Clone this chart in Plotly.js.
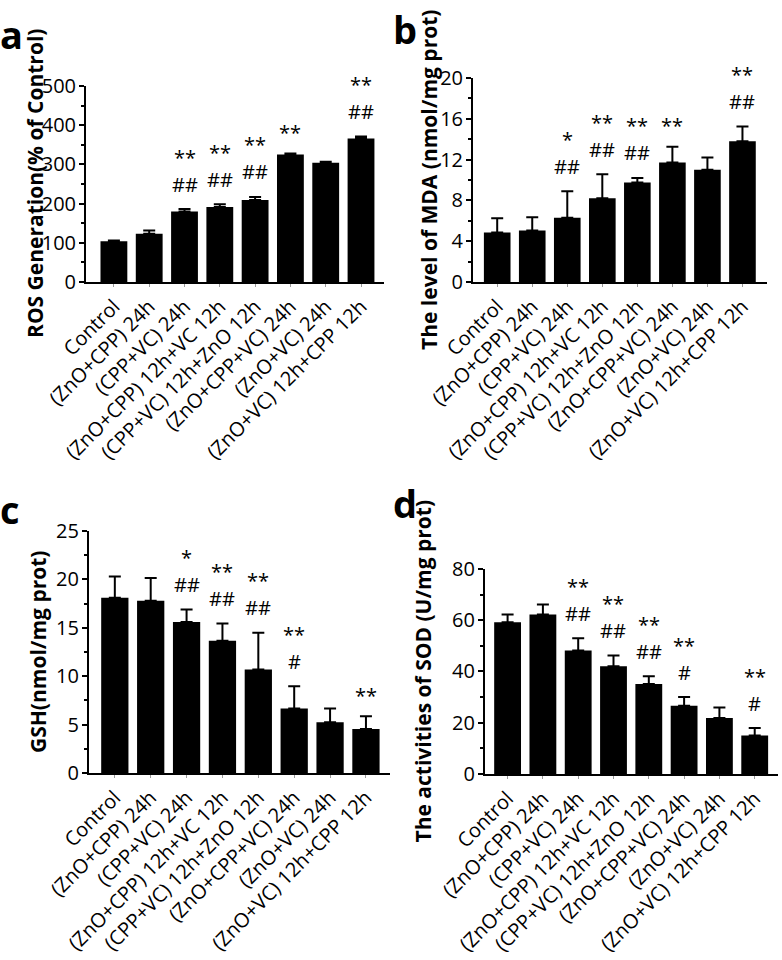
<!DOCTYPE html>
<html>
<head>
<meta charset="utf-8">
<script src="https://cdn.plot.ly/plotly-3.0.1.min.js"></script>
<style>html,body{margin:0;padding:0;background:#fff;}#chart{width:782px;height:960px;}</style>
</head>
<body>
<div id="chart"></div>
<script>
// ---- data ----
const categories = ["Control", "(ZnO+CPP) 24h", "(CPP+VC) 24h", "(ZnO+CPP) 12h+VC 12h",
  "(CPP+VC) 12h+ZnO 12h", "(ZnO+CPP+VC) 24h", "(ZnO+VC) 24h", "(ZnO+VC) 12h+CPP 12h"];

const rosMean = [104, 123, 180, 191, 209, 325, 304, 366];
const rosErr  = [2, 8, 6, 7, 8, 3, 3, 5];
const rosStar = ["", "", "**", "**", "**", "**", "", "**"];
const rosHash = ["", "", "##", "##", "##", "", "", "##"];

const mdaMean = [4.85, 5.05, 6.3, 8.2, 9.75, 11.7, 11.0, 13.8];
const mdaErr  = [1.4, 1.3, 2.6, 2.35, 0.45, 1.55, 1.2, 1.45];
const mdaStar = ["", "", "*", "**", "**", "**", "", "**"];
const mdaHash = ["", "", "##", "##", "##", "", "", "##"];

const gshMean = [18.1, 17.8, 15.6, 13.65, 10.7, 6.65, 5.25, 4.55];
const gshErr  = [2.2, 2.35, 1.3, 1.8, 3.8, 2.3, 1.4, 1.3];
const gshStar = ["", "", "*", "**", "**", "**", "", "**"];
const gshHash = ["", "", "##", "##", "##", "#", "", ""];

const sodMean = [59.2, 62.2, 48.2, 42.0, 35.1, 26.6, 21.8, 15.0];
const sodErr  = [3.0, 3.9, 4.8, 4.2, 3.0, 3.4, 4.1, 2.9];
const sodStar = ["", "", "**", "**", "**", "**", "", "**"];
const sodHash = ["", "", "##", "##", "##", "#", "", "#"];

const yTitles = ["ROS Generation(% of Control)", "The level of MDA (nmol/mg prot)",
  "GSH(nmol/mg prot)", "The activities of SOD (U/mg prot)"];
const panelLetters = ["a", "b", "c", "d"];

// ---- build ----
const FONT = "Open Sans, Noto Sans, DejaVu Sans, sans-serif";
const panels = [
  {mean: rosMean, err: rosErr, star: rosStar, hash: rosHash, yr: [0, 500], dt: 100,
   xd: [0.110, 0.491], yd: [0.7063, 0.9104], xr: [-0.79, 7.65], tx: 35},
  {mean: mdaMean, err: mdaErr, star: mdaStar, hash: mdaHash, yr: [0, 20], dt: 4,
   xd: [0.6049, 0.9808], yd: [0.7063, 0.9188], xr: [-0.69, 7.7], tx: 429},
  {mean: gshMean, err: gshErr, star: gshStar, hash: gshHash, yr: [0, 25], dt: 5,
   xd: [0.1138, 0.4987], yd: [0.1948, 0.4469], xr: [-0.72, 7.67], tx: 38},
  {mean: sodMean, err: sodErr, star: sodStar, hash: sodHash, yr: [0, 80], dt: 20,
   xd: [0.6202, 0.9949], yd: [0.1938, 0.4073], xr: [-0.64, 7.66], tx: 423}
];
const letterPos = [[-0.003, 1 - 34/960], [0.500, 1 - 29/960], [-0.003, 1 - 509/960], [0.500, 1 - 503/960]];

const data = [];
const layout = {
  width: 782, height: 960, margin: {l: 0, r: 0, t: 0, b: 0},
  paper_bgcolor: "#fff", plot_bgcolor: "rgba(0,0,0,0)",
  showlegend: false, font: {family: FONT, color: "#000"},
  annotations: []
};

panels.forEach((p, i) => {
  const n = i === 0 ? "" : String(i + 1);
  data.push({
    type: "bar", x: categories.map((c, k) => k), y: p.mean,
    xaxis: "x" + n, yaxis: "y" + n,
    width: 0.76, marker: {color: "#000", line: {width: 0}},
    error_y: {type: "data", array: p.err, arrayminus: p.err.map(() => 0), symmetric: false,
      color: "#000", thickness: 2, width: 6},
    cliponaxis: false, hoverinfo: "skip"
  });
  layout["xaxis" + n] = {
    domain: p.xd, anchor: "y" + n, range: p.xr,
    tickmode: "array", tickvals: categories.map((c, k) => k), ticktext: categories,
    tickangle: -45, tickfont: {size: 20, family: FONT, color: "#000"},
    showline: true, linewidth: 2, linecolor: "#000", ticks: "outside", ticklen: 3,
    tickwidth: 1, tickcolor: "#999", showgrid: false, zeroline: false, fixedrange: true
  };
  layout["yaxis" + n] = {
    domain: p.yd, anchor: "x" + n, range: p.yr, dtick: p.dt, tick0: 0,
    tickfont: {size: 20, family: FONT, color: "#000"},
    showline: true, linewidth: 2, linecolor: "#000", ticks: "outside", ticklen: 5,
    tickwidth: 2, tickcolor: "#000", showgrid: false, zeroline: false,
    ticklabelstandoff: -1,
    minor: {dtick: p.dt / 2, ticks: "outside", ticklen: 3, tickwidth: 2, tickcolor: "#000", showgrid: false},
    fixedrange: true
  };
  layout.annotations.push({
    x: p.tx / 782, y: (p.yd[0] + p.yd[1]) / 2, xref: "paper", yref: "paper",
    text: yTitles[i], textangle: -90, showarrow: false, xanchor: "center", yanchor: "middle",
    font: {size: 21, family: FONT, weight: "bold", color: "#000"}
  });
  p.mean.forEach((v, k) => {
    const lines = [];
    if (p.hash[k]) lines.push(p.hash[k]);
    if (p.star[k]) lines.push(p.star[k]);
    lines.forEach((t, j) => {
      layout.annotations.push({
        x: k, y: v + p.err[k], xref: "x" + n, yref: "y" + n,
        text: t, showarrow: false, yanchor: "middle", xanchor: "center",
        yshift: 25 + 31 * j + (t.indexOf("*") >= 0 ? -4 : 0),
        font: {size: 20, family: FONT, color: "#000"}
      });
    });
  });
  layout.annotations.push({
    x: letterPos[i][0], y: letterPos[i][1], xref: "paper", yref: "paper",
    text: panelLetters[i], showarrow: false, xanchor: "left", yanchor: "middle",
    font: {size: 38, family: FONT, weight: "bold", color: "#000"}
  });
});

Plotly.newPlot("chart", data, layout, {staticPlot: true, displayModeBar: false});
</script>
</body>
</html>
